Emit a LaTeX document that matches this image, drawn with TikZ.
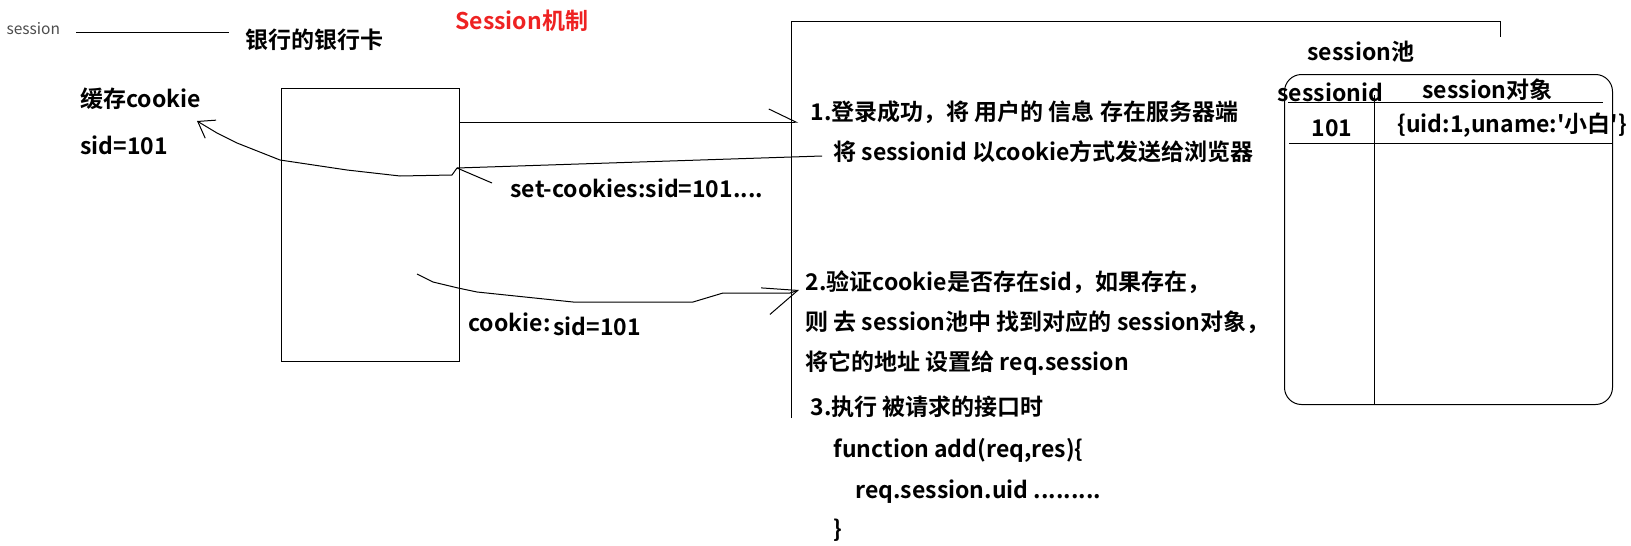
\documentclass[tikz,border=0pt]{standalone}
\usepackage{fontspec}
\newfontfamily\yh{Noto Sans CJK SC}[BoldFont={Noto Sans CJK SC Bold}]
\usetikzlibrary{arrows.meta, positioning}
\definecolor{titlered}{RGB}{238,34,34}

\tikzset{
  txt/.style={anchor=west, inner sep=0pt, font=\yh\bfseries\fontsize{23}{27}\selectfont},
  small/.style={anchor=west, inner sep=0pt, text=black!70, font=\yh\fontsize{15.5}{18}\selectfont},
  hand/.style={line width=1pt, line join=round},
}

\begin{document}
\begin{tikzpicture}[x=1pt, y=-1pt, line width=1pt]
\useasboundingbox (0,0) rectangle (1631,546);

% browser side
\node[small] (sess) at (6,29) {session};
\node[txt] (bank) at (245,40) {银行的银行卡};
\draw ([xshift=16pt]sess.east |- 0,32.5) -- ([xshift=-16pt]bank.west |- 0,32.5);
\node[txt, text=titlered] (title) at (455,21) {Session机制};
\node[txt] (cache) at (80,99) {缓存cookie};
\node[txt] (sid) at (80,145) {sid=101};

\node[draw, anchor=north west, minimum width=178pt, minimum height=273pt,
      inner sep=0pt] (card) at (280.5,88) {};

% server side
\coordinate (srvbot) at (791,418);
\coordinate (srvtop) at (791,21);
\coordinate (srvend) at (1500,21);
\draw (srvbot) -- (srvtop) -- (srvend) -- ++(0,16);

% 1. login request
\coordinate (req1) at (798,122);
\draw[hand, -{Straight Barb[left, length=27pt, width=26pt]}] (card.east |- req1) -- (req1);

% set-cookie response
\coordinate (resp) at (822,156);
\coordinate (sidtip) at (197,121);
\draw[hand, -{Straight Barb[length=15pt, width=21pt]}] (resp) -- (457,168) -- (452,175)
  -- (400,176) -- (347,170) -- (280,160) -- (237,143) -- (217,133) -- (sidtip);
\draw[hand] (457,168) -- (492,183);
\node[txt] (setck) at (510,188) {set-cookies:sid=101....};

% 2. request with cookie
\coordinate (ckstart) at (417,274);
\coordinate (req2) at (799,290);
\draw[hand, -{Straight Barb[length=34pt, width=28pt]}] (ckstart) -- (433,282) -- (458,288)
  -- (477,292) -- (573,302) -- (693,302) -- (723,293) -- (790,293) -- (req2);
\node[txt] (ck) at (468,322) {cookie:};
\node[txt] (cksid) at (553,326) {sid=101};

% steps
\node[txt] (s1a) at (810,112) {1.登录成功，将 用户的 信息 存在服务器端};
\node[txt] (s1b) at (833,152) {将 sessionid 以cookie方式发送给浏览器};
\node[txt] (s2a) at (805,282) {2.验证cookie是否存在sid，如果存在，};
\node[txt] (s2b) at (805,322) {则 去 session池中 找到对应的 session对象，};
\node[txt] (s2c) at (805,363) {将它的地址 设置给 req.session};
\node[txt] (s3a) at (810,407) {3.执行 被请求的接口时};
\node[txt] (s3b) at (833,450) {function add(req,res)\{};
\node[txt] (s3c) at (855,492) {req.session.uid .........};
\node[txt] (s3d) at (833,530) {\}};

% session pool
\node[txt] (pooltitle) at (1307,52) {session池};
\node[draw, rounded corners=17pt, anchor=north west, minimum width=328pt,
      minimum height=330pt, inner sep=0pt] (pool) at (1284,74) {};
\draw (1374,95) -- (1374,0 |- pool.south);
\draw (1288,102) -- (1603,102);
\draw (1289,143) -- (pool.east |- 0,143);
\node[txt] (colid) at (1277,92) {sessionid};
\node[txt] (colobj) at (1422,90) {session对象};
\node[txt] (rowid) at (1311,128) {101};
\node[txt] (rowobj) at (1397,125) {\{uid:1,uname:'小白'\}};
\end{tikzpicture}
\end{document}
